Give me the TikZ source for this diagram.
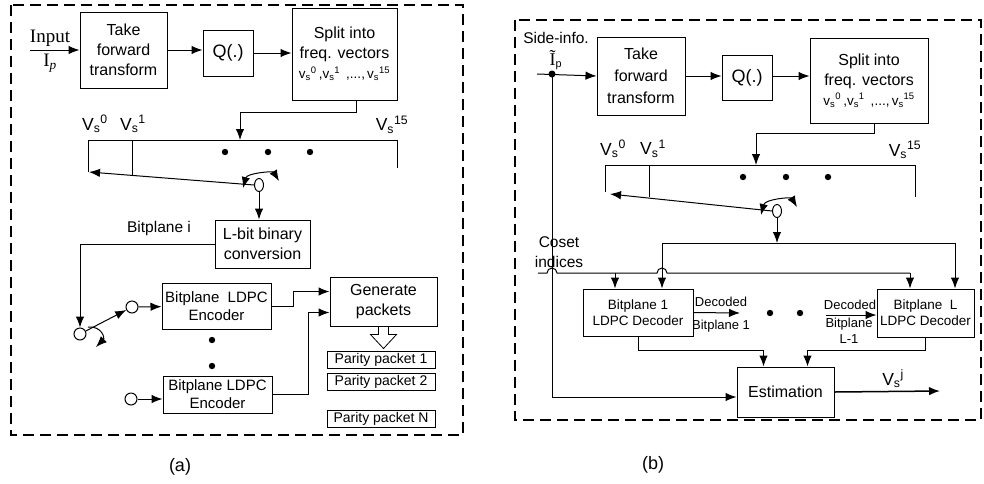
\documentclass[tikz,border=0pt]{standalone}
\usepackage{fontspec}
\setmainfont{Liberation Sans}
\newfontfamily\timesfont{Liberation Serif}
\usepackage{tikz}
\usetikzlibrary{arrows.meta}
\usetikzlibrary{shapes.geometric}
\usetikzlibrary{positioning}

\newcommand{\vsub}[1]{v\textsubscript{s}\textsuperscript{#1}}
\newcommand{\Vsub}[1]{V\textsubscript{s}\textsuperscript{#1}}

\tikzset{
    block/.style={draw, rectangle, align=center, inner sep=1pt, font=\fontsize{16}{20}\selectfont},
    packet/.style={draw, rectangle, minimum width=108, minimum height=17, inner sep=0pt, font=\fontsize{14}{14}\selectfont},
    port/.style={draw, circle, inner sep=0pt, minimum size=12},
    pivot/.style={draw, ellipse, inner sep=0pt, minimum width=9, minimum height=13},
    lbl/.style={inner sep=0pt, font=\fontsize{15.5}{16}\selectfont},
    vlbl/.style={inner sep=0pt, font=\fontsize{17.5}{18}\selectfont},
    note/.style={inner sep=0pt, font=\fontsize{13}{13}\selectfont},
    frame/.style={dash pattern=on 11pt off 6pt, line width=1.2pt},
}

\begin{document}
\begin{tikzpicture}[x=1pt, y=-1pt, line width=1pt, >={Latex[length=11pt, width=8.5pt]}]
        \useasboundingbox (0,0) rectangle (984,483);

        % encoder
        \draw[frame] (11,5) rectangle (463,435);
        \node[lbl, font=\fontsize{18}{18}\selectfont] (capa) at (180,467) {(a)};

        \coordinate (src) at (30,50);
        \node[lbl, font=\timesfont\fontsize{19}{19}\selectfont] (input) at (50,38) {Input};
        \node[lbl, font=\timesfont\fontsize{19}{19}\selectfont] (ip) at (50,63) {I\textsubscript{\itshape p}};

        \node[block, minimum width=87, minimum height=76] (take) at (123.5,50) {Take\\forward\\transform};
        \node[block, minimum width=50, minimum height=46, font=\fontsize{18}{18}\selectfont] (q) at (228,53) {Q(.)};
        \node[block, minimum width=105, minimum height=92] (split) at (344.5,54) {Split into\\freq. vectors\\{\fontsize{13.5}{14}\selectfont\vsub{0}\,,\vsub{1}\ \,,...,\,\vsub{15}}};

        \draw[->] (src) -- (take.west);
        \draw[->] (take.east) -- (take.east -| q.west);
        \draw[->] (q.east) -- (q.east -| split.west);

        \coordinate (bus0) at (88,140);
        \coordinate (bus1) at (132,140);
        \coordinate (bus15) at (397,140);
        \coordinate (busin) at (240,140);
        \draw (88,172) -- (bus0) -- (bus15) -- (397,168);
        \draw (bus1) -- (132,175);
        \draw[->] ([xshift=11.5pt]split.south) -- ++(0,12) -| (busin);

        \node[vlbl] (v0) at (95,124) {\Vsub{0}};
        \node[vlbl] (v1) at (133,124) {\Vsub{1}};
        \node[vlbl] (v15) at (392,125) {\Vsub{15}};
        \fill (225,152) circle[radius=3.2pt] (268,152) circle[radius=3.2pt] (310,152) circle[radius=3.2pt];

        \node[pivot] (piv) at (259,185) {};
        \coordinate (arm) at (89,172);
        \draw[->] (piv.west) -- (arm);
        \draw[<->] (243,188) .. controls (247,173) and (273,171) .. (279,181);

        \node[block, minimum width=95, minimum height=48] (lbit) at (262.5,244) {L-bit binary\\conversion};
        \draw[->] (piv.south) -- (piv.south |- lbit.north);
        \node[lbl] (bpi) at (159,228) {Bitplane i};

        \node[port] (sw) at (80,334) {};
        \draw[->] (lbit.west) -| (sw.north);
        \node[port] (p1) at (132,307) {};
        \draw[->] (sw) -- (p1);
        \draw[->] (88,327) .. controls (102,326) and (105,338) .. (96,347);

        \node[block, minimum width=109, minimum height=46, font=\fontsize{15}{18}\selectfont] (enc1) at (216.5,306) {Bitplane\ \ LDPC\\Encoder};
        \draw[->] (p1) -- (enc1);
        \fill (212,340) circle[radius=3.2pt] (212,366) circle[radius=3.2pt];
        \node[port] (p2) at (131,399) {};
        \node[block, minimum width=109, minimum height=37, font=\fontsize{15}{18}\selectfont] (enc2) at (217.5,394.5) {Bitplane LDPC\\Encoder};
        \draw[->] (p2) -- (p2 -| enc2.west);

        \node[block, minimum width=107, minimum height=49] (gen) at (383.5,301.5) {Generate\\packets};
        \draw[->] (enc1.east) -- ++(22,0) |- ([yshift=10pt]gen.west);
        \draw[->] (enc2.east) -- ++(36,0) |- ([yshift=-11pt]gen.west);
        \draw[line width=0.8pt] ([xshift=-5pt]gen.south) -- ++(0,8) -- ++(-8,0) -- ++(13,14) -- ++(13,-14) -- ++(-8,0) -- ++(0,-8);

        \node[packet] (pk1) at (381,360) {Parity packet 1};
        \node[packet] (pk2) at (381,381.5) {Parity packet 2};
        \node[packet] (pkn) at (381,418.5) {Parity packet N};

        % decoder
        \draw[frame] (515,20) rectangle (981,420);
        \node[lbl, font=\fontsize{18}{18}\selectfont] (capb) at (653,465) {(b)};

        \node[lbl] (side) at (556,38) {Side-info.};
        \node[lbl] (ip2) at (556,60) {{\timesfont\fontsize{18}{18}\selectfont\~{I}}\textsubscript{p}};
        \coordinate (si) at (537,74);
        \coordinate (jn) at (552,74);
        \fill (jn) circle[radius=3.5pt];

        \node[block, minimum width=88, minimum height=78, font=\fontsize{16}{22}\selectfont] (take2) at (641,76) {Take\\forward\\transform};
        \node[block, minimum width=50, minimum height=45, font=\fontsize{18}{18}\selectfont] (q2) at (747,77.5) {Q(.)};
        \node[block, minimum width=118, minimum height=85] (split2) at (869,80.5) {Split into\\freq. vectors\\{\fontsize{13.5}{14}\selectfont\vsub{0}\,,\vsub{1}\ \,,...,\,\vsub{15}}};

        \draw[->] (si) -- (take2.west);
        \draw[->] (take2.east) -- (take2.east -| q2.west);
        \draw[->] (q2.east |- take2.east) -- (take2.east -| split2.west);

        \coordinate (bbus0) at (605,165);
        \coordinate (bbus1) at (649,165);
        \coordinate (bbus15) at (915,165);
        \coordinate (bbusin) at (756,165);
        \draw (605,192) -- (bbus0) -- (bbus15) -- (915,197);
        \draw (bbus1) -- (649,197);
        \draw[->] ([xshift=5pt]split2.south) -- ++(0,10) -| (bbusin);

        \node[vlbl] (bv0) at (613,149) {\Vsub{0}};
        \node[vlbl] (bv1) at (653,149) {\Vsub{1}};
        \node[vlbl] (bv15) at (905,150) {\Vsub{15}};
        \fill (743,177) circle[radius=3.2pt] (786,177) circle[radius=3.2pt] (828,177) circle[radius=3.2pt];

        \node[pivot] (piv2) at (777,211) {};
        \coordinate (arm2) at (610,194);
        \draw[->] (piv2.west) -- (arm2);
        \draw[<->] (761,215) .. controls (765,199) and (791,197) .. (797,207);

        \node[block, minimum width=110, minimum height=47, font=\fontsize{13.5}{16}\selectfont] (dec1) at (638,312.5) {Bitplane 1\\LDPC Decoder};
        \node[block, minimum width=97, minimum height=48, font=\fontsize{13.5}{16}\selectfont] (decL) at (925.5,313) {Bitplane\ \ L\\LDPC Decoder};

        \coordinate (fan) at (777,243);
        \coordinate (fanL) at (662,243);
        \coordinate (fanR) at (955,243);
        \draw[->] (piv2.south) -- (fan);
        \draw (fanL) -- (fanR);
        \draw[->] (fanL) -- (fanL |- dec1.north);
        \draw[->] (fanR) -- (fanR |- decL.north);

        \coordinate (cs0) at (538,273);
        \coordinate (cs1) at (615,273);
        \coordinate (cs2) at (910,273);
        \draw (cs0) -- (547,273) arc[start angle=180, end angle=0, radius=5pt] -- (657,273) arc[start angle=180, end angle=0, radius=5pt] -- (cs2);
        \draw[->] (cs1) -- (cs1 |- dec1.north);
        \draw[->] (cs2) -- (cs2 |- decL.north);
        \node[lbl] (coset) at (559,242) {Coset};
        \node[lbl] (ind) at (559,262) {indices};

        \coordinate (d1out) at (740,313);
        \draw[->] (dec1.east) -- (d1out);
        \node[note] (dec1a) at (721,302) {Decoded};
        \node[note] (dec1b) at (721,326) {Bitplane 1};
        \fill (770,313) circle[radius=3.2pt] (800,313) circle[radius=3.2pt];
        \coordinate (dLin) at (826,315);
        \draw[->] (dLin) -- (dLin -| decL.west);
        \node[note] (decLa) at (850,305) {Decoded};
        \node[note] (decLb) at (849,324) {Bitplane};
        \node[note] (decLc) at (849,339) {L-1};

        \node[block, minimum width=97, minimum height=50] (est) at (785.5,392) {Estimation};
        \draw[->] (dec1.south) -- ++(0,14) -| ([xshift=-22pt]est.north);
        \draw[->] (decL.south) -- ++(0,13) -| ([xshift=22pt]est.north);
        \draw[->] (jn) |- ([yshift=-5pt]est.west);
        \coordinate (eout) at (940,391);
        \draw[->, line width=1.5pt] (est.east) -- (eout);
        \node[vlbl] (vj) at (893,379) {\Vsub{j}};
    \end{tikzpicture}
\end{document}
